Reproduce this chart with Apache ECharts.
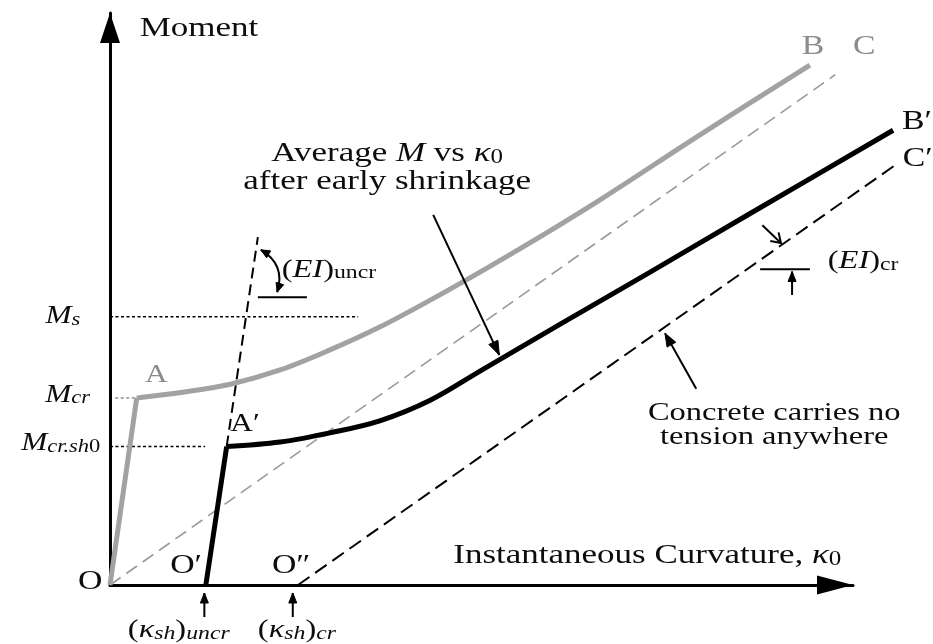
<!DOCTYPE html>
<html>
<head>
<meta charset="utf-8">
<script src="https://cdn.jsdelivr.net/npm/echarts@6/dist/echarts.min.js"></script>
<style>
  html, body { margin: 0; padding: 0; background: #ffffff; }
  #chart { width: 933px; height: 644px; }
</style>
</head>
<body>
<div id="chart"></div>
<script>
// Moment vs instantaneous curvature, schematic units (curvature 0-100, moment 0-100)

// Characteristic moment levels
const levelMs = 46.9;
const levelMcr = 32.7;
const levelMcrSh0 = 24.2;

// Shrinkage curvatures on the curvature axis
const kappaShUncr = 12.9;
const kappaShCr = 25.3;

// O -> A : uncracked branch, no shrinkage
const branchOA = [[0, 0], [3.6, 32.7]];
// A -> B : cracked branch, no shrinkage
const branchAB = [
  [3.6, 32.7], [9.8, 33.7], [16.2, 35.1], [22.9, 37.6], [29.6, 41.1],
  [36.3, 45.1], [43.1, 49.8], [49.8, 54.7], [56.5, 59.8], [65.9, 67.3],
  [79.4, 78.7], [94.2, 90.9]
];
// O' -> A' : uncracked branch after early shrinkage
const branchOA_sh = [[kappaShUncr, 0], [15.7, levelMcrSh0]];
// A' -> B' : average response after early shrinkage
const branchAB_sh = [
  [15.7, 24.2], [22.9, 25.0], [29.6, 26.6], [36.3, 28.7], [43.1, 32.3],
  [49.8, 37.4], [60.6, 45.6], [72.7, 54.7], [86.1, 64.9], [105.4, 79.5]
];
// Fully cracked lines (concrete carries no tension)
const lineOC = [[0, 0], [97.6, 89.2]];
const lineOC_sh = [[kappaShCr, 0], [106.1, 73.8]];
// Uncracked stiffness line continued above A'
const lineUncrStiffness = [[15.7, levelMcrSh0], [19.9, 60.8]];

// Guide lines for the moment levels
const guideMs = [[0, levelMs], [33.4, levelMs]];
const guideMcr = [[0.7, levelMcr], [3.6, levelMcr]];
const guideMcrSh0 = [[0, levelMcrSh0], [12.8, levelMcrSh0]];

const INK = '#0d0d0d';
const GREY = '#a2a2a2';
const GREY_TEXT = '#8c8c8c';
const SERIF = 'Liberation Serif';

// Pointer arrows and tick bars of the annotations
const annotationArrows = [
  { from: [43.5, 64.7], to: [52.4, 40.2], head: 'end', len: 14, half: 5 },
  { from: [78.9, 34.3], to: [74.7, 44.0], head: 'end', len: 13, half: 5 },
  { from: [87.8, 62.9], to: [90.3, 59.8], head: 'end', open: true, len: 9, half: 6 },
  { from: [91.8, 50.7], to: [91.8, 54.8], head: 'end', len: 10, half: 4 },
  { from: [87.5, 55.2], to: [94.2, 55.2], head: 'none' },
  { from: [19.9, 50.3], to: [26.5, 50.3], head: 'none' },
  { from: [20.3, 58.6], to: [22.5, 51.2], head: 'both', curve: 0.4, len: 9, half: 4 },
  { from: [12.7, -5.6], to: [12.7, -1.4], head: 'end', len: 10, half: 4 },
  { from: [24.6, -5.6], to: [24.6, -1.4], head: 'end', len: 10, half: 4 }
];

function lineSeries(data, color, width, dash, z, smooth) {
  return {
    type: 'line', data: data, symbol: 'none', clip: false, silent: true,
    xAxisIndex: 1, yAxisIndex: 1,
    smooth: smooth || false, z: z, animation: false,
    lineStyle: { color: color, width: width, type: dash || 'solid', cap: 'butt', join: 'round' }
  };
}

function headPoints(tip, dir, len, half) {
  const bx = tip[0] - dir[0] * len, by = tip[1] - dir[1] * len;
  const nx = -dir[1], ny = dir[0];
  return [[bx + nx * half, by + ny * half], tip, [bx - nx * half, by - ny * half]];
}

function unit(a, b) {
  const dx = b[0] - a[0], dy = b[1] - a[1];
  const l = Math.sqrt(dx * dx + dy * dy) || 1;
  return [dx / l, dy / l];
}

function renderArrow(params, api) {
  const spec = annotationArrows[params.dataIndex];
  const p1 = api.coord([api.value(0), api.value(1)]);
  const p2 = api.coord([api.value(2), api.value(3)]);
  const children = [];
  const stroke = { stroke: '#000', lineWidth: 2, fill: null };
  let dirEnd = unit(p1, p2), dirStart = unit(p2, p1);
  if (spec.curve) {
    const cp = [(p1[0] + p2[0]) / 2 - (p1[1] - p2[1]) * spec.curve,
                (p1[1] + p2[1]) / 2 - (p2[0] - p1[0]) * spec.curve];
    children.push({ type: 'bezierCurve', shape: { x1: p1[0], y1: p1[1], x2: p2[0], y2: p2[1], cpx1: cp[0], cpy1: cp[1] }, style: stroke });
    dirEnd = unit(cp, p2); dirStart = unit(cp, p1);
  } else {
    children.push({ type: 'line', shape: { x1: p1[0], y1: p1[1], x2: p2[0], y2: p2[1] }, style: stroke });
  }
  const addHead = function (tip, dir) {
    const pts = headPoints(tip, dir, spec.len, spec.half);
    if (spec.open) {
      children.push({ type: 'polyline', shape: { points: pts }, style: { stroke: '#000', lineWidth: 2, fill: null } });
    } else {
      children.push({ type: 'polygon', shape: { points: pts }, style: { fill: '#000', stroke: '#000', lineWidth: 1 } });
    }
  };
  if (spec.head === 'end' || spec.head === 'both') addHead(p2, dirEnd);
  if (spec.head === 'both') addHead(p1, dirStart);
  return { type: 'group', children: children };
}

const chart = echarts.init(document.getElementById('chart'), null, { renderer: 'canvas' });

const hiddenParts = { axisTick: { show: false }, axisLabel: { show: false }, splitLine: { show: false } };

chart.setOption({
  animation: false,
  backgroundColor: '#ffffff',
  grid: [
    // visible axes
    { left: 110, right: 80, top: 13, bottom: 59 },
    // same scale, wider area so the curves can run past the axis arrow
    { left: 110, right: 5.7, top: 13, bottom: 59 }
  ],
  xAxis: [
    Object.assign({ type: 'value', min: 0, max: 100, gridIndex: 0,
      axisLine: { show: true, onZero: false, symbol: ['none', 'triangle'], symbolSize: [19, 36], symbolOffset: [0, -18],
        lineStyle: { color: '#000', width: 3 } } }, hiddenParts),
    Object.assign({ type: 'value', min: 0, max: 110, gridIndex: 1, axisLine: { show: false } }, hiddenParts)
  ],
  yAxis: [
    Object.assign({ type: 'value', min: 0, max: 100, gridIndex: 0,
      axisLine: { show: true, onZero: false, symbol: ['none', 'triangle'], symbolSize: [20, 30], symbolOffset: [0, -15],
        lineStyle: { color: '#000', width: 3 } } }, hiddenParts),
    Object.assign({ type: 'value', min: 0, max: 100, gridIndex: 1, axisLine: { show: false } }, hiddenParts)
  ],
  series: [
    lineSeries(guideMs, '#000', 1.5, [3, 2.5], 2),
    lineSeries(guideMcr, '#555', 1, [3, 2.5], 2),
    lineSeries(guideMcrSh0, '#000', 1.5, [3, 2.5], 2),
    lineSeries(lineOC, '#9a9a9a', 1.6, [13, 7], 3),
    lineSeries(lineOC_sh, '#000', 2, [14, 7], 3),
    lineSeries(lineUncrStiffness, '#000', 2, [11, 6], 3),
    lineSeries(branchOA, GREY, 5, 'solid', 4),
    lineSeries(branchAB, GREY, 5, 'solid', 4, 0.35),
    lineSeries(branchOA_sh, '#000', 5, 'solid', 5),
    lineSeries(branchAB_sh, '#000', 5, 'solid', 5, 0.35),
    {
      type: 'custom', silent: true, z: 6, clip: false, animation: false,
      xAxisIndex: 1, yAxisIndex: 1,
      renderItem: renderArrow,
      encode: { x: [0, 2], y: [1, 3] },
      data: annotationArrows.map(function (a) { return [a.from[0], a.from[1], a.to[0], a.to[1]]; })
    }
  ]
});

// Text annotations, anchored in data coordinates
function richSet(fs, color) {
  const sub = Math.round(fs * 0.72);
  return {
    n: { fontFamily: SERIF, fontSize: fs, lineHeight: fs, fill: color },
    i: { fontFamily: SERIF, fontSize: fs, fontStyle: 'italic', lineHeight: fs, fill: color },
    si: { fontFamily: SERIF, fontSize: sub, fontStyle: 'italic', lineHeight: Math.round(fs * 0.45), verticalAlign: 'bottom', fill: color },
    sn: { fontFamily: SERIF, fontSize: sub, lineHeight: Math.round(fs * 0.45), verticalAlign: 'bottom', fill: color }
  };
}

const textLabels = [
  { at: [4.0, 97.2], text: 'Moment', fs: 28 },
  { at: [-4.0, 46.9], text: '{i|M}{si|s}', fs: 25, align: 'right' },
  { at: [-2.7, 33.2], text: '{i|M}{si|cr}', fs: 25, align: 'right' },
  { at: [-1.3, 24.7], text: '{i|M}{si|cr.sh}{sn|0}', fs: 25, align: 'right' },
  { at: [4.7, 36.7], text: 'A', fs: 25, color: GREY_TEXT },
  { at: [16.2, 28.1], text: 'A\u2032', fs: 25 },
  { at: [-4.3, 0.6], text: 'O', fs: 27 },
  { at: [8.1, 3.3], text: 'O\u2032', fs: 27 },
  { at: [21.8, 3.3], text: 'O\u2033', fs: 27 },
  { at: [2.4, -7.9], text: '({i|\u03ba}{si|sh}){si|uncr}', fs: 26 },
  { at: [19.9, -7.9], text: '({i|\u03ba}{si|sh}){si|cr}', fs: 26 },
  { at: [93.1, 94.1], text: 'B', fs: 27, color: GREY_TEXT },
  { at: [100.0, 94.1], text: 'C', fs: 27, color: GREY_TEXT },
  { at: [106.6, 80.9], text: 'B\u2032', fs: 27 },
  { at: [106.7, 74.5], text: 'C\u2032', fs: 27 },
  { at: [37.3, 73.0], text: 'Average {i|M} vs {i|\u03ba}{sn|0}\nafter early shrinkage', fs: 28, lh: 27, align: 'center' },
  { at: [23.1, 55.1], text: '({i|EI}){sn|uncr}', fs: 26 },
  { at: [96.6, 56.6], text: '({i|EI}){sn|cr}', fs: 26 },
  { at: [89.4, 28.0], text: 'Concrete carries no\ntension anywhere', fs: 26, lh: 24, align: 'center' },
  { at: [46.2, 5.1], text: 'Instantaneous Curvature, {i|\u03ba}{sn|0}', fs: 28 }
];

const graphics = textLabels.map(function (t) {
  const p = chart.convertToPixel({ gridIndex: 1 }, t.at);
  const color = t.color || INK;
  const align = t.align || 'left';
  return {
    type: 'text', x: p[0], y: p[1], scaleX: 1.25, scaleY: 1, z: 100, silent: true,
    style: {
      text: t.text, fontFamily: SERIF, fontSize: t.fs, lineHeight: t.lh || t.fs, fill: color,
      align: align, verticalAlign: 'middle', textAlign: align, textVerticalAlign: 'middle',
      rich: richSet(t.fs, color)
    }
  };
});

chart.setOption({ graphic: graphics });
</script>
</body>
</html>
